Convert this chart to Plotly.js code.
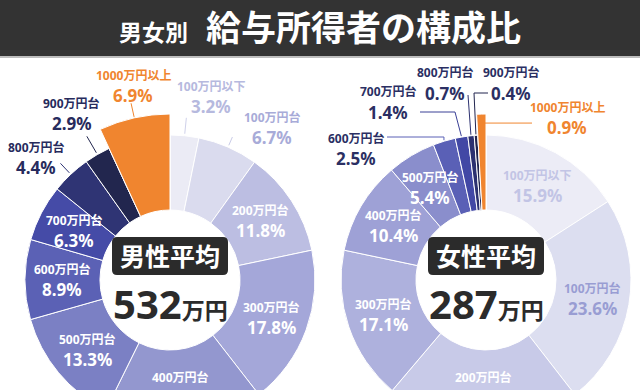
<!DOCTYPE html>
<html>
<head>
<meta charset="utf-8">
<script src="https://cdn.plot.ly/plotly-3.0.1.min.js"></script>
<style>
html, body { margin: 0; padding: 0; overflow: hidden; background: #fff; }
#chart { width: 700px; height: 460px; }
</style>
</head>
<body>
<div id="chart"></div>
<script>
// ---------- data ----------
const categories = ['100万円以下','100万円台','200万円台','300万円台','400万円台','500万円台','600万円台','700万円台','800万円台','900万円台','1000万円以上'];
const maleShare   = [3.2, 6.7, 11.8, 17.8, 17.8, 13.3, 8.9, 6.3, 4.4, 2.9, 6.9];
const femaleShare = [15.9, 23.6, 21.7, 17.1, 10.4, 5.4, 2.5, 1.4, 0.7, 0.4, 0.9];
const avgLabels = ['男性平均', '女性平均'];
const avgValues = [532, 287];
const avgUnit = '万円';
const titleSmall = '男女別';
const titleMain = '給与所得者の構成比';

// ---------- styles ----------
const FONT = '"Noto Sans", "Noto Sans CJK JP", sans-serif';
const ORANGE = '#f0852f';
const maleColors   = ['#ebebf5','#dadbee','#bcbee2','#a4a7d9','#9397cf','#7b80c4','#5b61b5','#454ba7','#2f3474','#22264e', ORANGE];
const femaleColors = ['#ececf6','#dcdef0','#c8cae8','#aeb1dd','#9ea1d6','#8a8ecc','#5a60b6','#4248a5','#2c3170','#21254f', ORANGE];

const W = 700, H = 460;
const px = x => x / W;
const py = y => 1 - y / H;

const geoms = [
  { cx: 170, cy: 280, R: 145, Rx: 166, hole: 70 },
  { cx: 486, cy: 280, R: 145, Rx: 166, hole: 70 }
];
const IN_R = 108;

// label styles per chart (positions of outside labels are layout decisions)
const maleLabelCfg = {
  0: { mode: 'radial', r0: 147, r1: 163, dx: 25, dy: -21, text: '#b6b9de', line: '#cfd1ea' },
  1: { mode: 'radial', r0: 147, r1: 156, dx: 40, dy: -10, text: '#a8abd8', line: '#c9cbe7' },
  8: { mode: 'radial', r0: 147, r1: 160, dx: -24, dy: -6, text: '#272b5d', line: '#2f3474' },
  9: { mode: 'radial', r0: 147, r1: 166, dx: -15, dy: -23, text: '#272b5d', line: '#22264e' },
  10:{ mode: 'radial', r0: 167, r1: 181, dx: 2, dy: -18, text: ORANGE, line: ORANGE }
};
const femaleLabelCfg = {
  0: { mode: 'in', text: '#c2c4e5' },
  1: { mode: 'in', text: '#999dd3' },
  6: { mode: 'elbow', r0: 146, pts: [[null,137],[387,137]], block: [356,148], text: '#2b2f63', line: '#5a60b6' },
  7: { mode: 'elbow', r0: 146, pts: [[455,112],[420,112]], block: [388,102], text: '#2b2f63', line: '#3a4096' },
  8: { mode: 'elbow', r0: 146, pts: [[468,95]], block: [445,83], text: '#2b2f63', line: '#2c3170' },
  9: { mode: 'elbow', r0: 146, pts: [[474,93],[488,93]], block: [511,83], text: '#2b2f63', line: '#21254f' },
  10:{ mode: 'elbow', r0: 157, pts: [[532,null]], block: [567,118], text: ORANGE, line: ORANGE }
};

function polar(g, ang, r) {
  const a = ang * Math.PI / 180;
  return [g.cx + r * Math.sin(a), g.cy - r * Math.cos(a)];
}
function midAngles(vals) {
  const total = vals.reduce((s, v) => s + v, 0);
  let c = 0;
  return vals.map(v => { const m = (c + v / 2) / total * 360; c += v; return m; });
}
function domainFor(g, R) {
  return { x: [px(g.cx - R), px(g.cx + R)], y: [py(g.cy + R), py(g.cy - R)] };
}

const traces = [];
const shapes = [];
const annotations = [];

function txt(x, y, text, size, color) {
  annotations.push({ xref: 'paper', yref: 'paper', x: px(x), y: py(y), text: '<b>' + text + '</b>',
    showarrow: false, xanchor: 'center', yanchor: 'middle',
    font: { family: FONT, size: size, color: color } });
}
function block(x, y, i, vals, color) {
  txt(x, y - 10, categories[i], 12, color);
  txt(x, y + 10, vals[i].toFixed(1) + '%', 17, color);
}
function seg(x0, y0, x1, y1, color) {
  shapes.push({ type: 'line', xref: 'paper', yref: 'paper', x0: px(x0), y0: py(y0), x1: px(x1), y1: py(y1),
    line: { color: color, width: 1 } });
}

function buildChart(vals, colors, g, cfg, avgIdx) {
  const last = vals.length - 1;
  traces.push({
    type: 'pie', values: vals, labels: categories, sort: false, direction: 'clockwise', rotation: 0,
    hole: g.hole / g.R, textinfo: 'none', hoverinfo: 'skip', showlegend: false,
    marker: { colors: colors, line: { color: '#ffffff', width: 1 } },
    domain: domainFor(g, g.R)
  });
  traces.push({
    type: 'pie', values: vals, labels: categories, sort: false, direction: 'clockwise', rotation: 0,
    hole: g.hole / g.Rx, textinfo: 'none', hoverinfo: 'skip', showlegend: false,
    marker: {
      colors: vals.map((v, i) => i === last ? colors[i] : 'rgba(0,0,0,0)'),
      line: { color: vals.map((v, i) => i === last ? '#ffffff' : 'rgba(0,0,0,0)'), width: 1 }
    },
    domain: domainFor(g, g.Rx)
  });

  const mids = midAngles(vals);
  vals.forEach((v, i) => {
    const c = cfg[i] || { mode: 'in', text: '#ffffff' };
    if (c.mode === 'in') {
      const [x, y] = polar(g, mids[i], IN_R);
      block(x, y, i, vals, c.text);
    } else if (c.mode === 'radial') {
      const [x0, y0] = polar(g, mids[i], c.r0);
      const [x1, y1] = polar(g, mids[i], c.r1);
      seg(x0, y0, x1, y1, c.line);
      block(x1 + c.dx, y1 + c.dy, i, vals, c.text);
    } else {
      let [x, y] = polar(g, mids[i], c.r0);
      c.pts.forEach(p => {
        const nx = p[0] === null ? x : p[0];
        const ny = p[1] === null ? y : p[1];
        seg(x, y, nx, ny, c.line);
        x = nx; y = ny;
      });
      block(c.block[0], c.block[1], i, vals, c.text);
    }
  });

  // center badge
  const bw = 116, bh = 38, bx = g.cx - bw / 2, by = 237, rr = 5;
  const P = (x, y) => px(x) + ',' + py(y);
  shapes.push({
    type: 'path', xref: 'paper', yref: 'paper', fillcolor: '#2b2b2b', line: { width: 0 },
    path: 'M' + P(bx + rr, by) + ' L' + P(bx + bw - rr, by) + ' Q' + P(bx + bw, by) + ' ' + P(bx + bw, by + rr) +
          ' L' + P(bx + bw, by + bh - rr) + ' Q' + P(bx + bw, by + bh) + ' ' + P(bx + bw - rr, by + bh) +
          ' L' + P(bx + rr, by + bh) + ' Q' + P(bx, by + bh) + ' ' + P(bx, by + bh - rr) +
          ' L' + P(bx, by + rr) + ' Q' + P(bx, by) + ' ' + P(bx + rr, by) + ' Z'
  });
  txt(g.cx, by + bh / 2, avgLabels[avgIdx], 25, '#ffffff');
  annotations.push({ xref: 'paper', yref: 'paper', x: px(g.cx), y: py(303),
    text: '<b>' + avgValues[avgIdx] + '<span style="font-size:23px">' + avgUnit + '</span></b>',
    showarrow: false, xanchor: 'center', yanchor: 'middle',
    font: { family: FONT, size: 40, color: '#2b2b2b' } });
}

buildChart(maleShare, maleColors, geoms[0], maleLabelCfg, 0);
buildChart(femaleShare, femaleColors, geoms[1], femaleLabelCfg, 1);

// header bar
shapes.unshift({ type: 'rect', xref: 'paper', yref: 'paper', x0: 0, x1: 1, y0: py(56), y1: 1,
  fillcolor: '#333333', line: { width: 0 }, layer: 'below' });
shapes.unshift({ type: 'rect', xref: 'paper', yref: 'paper', x0: 0, x1: 1, y0: py(58), y1: py(56),
  fillcolor: '#bdbdbd', line: { width: 0 }, layer: 'below' });

const layout = {
  width: W, height: H,
  margin: { l: 0, r: 0, t: 0, b: 0 },
  paper_bgcolor: '#ffffff', plot_bgcolor: '#ffffff',
  showlegend: false,
  title: {
    text: '<b><span style="font-size:23px">' + titleSmall + '</span> \u00a0' + titleMain + '</b>',
    font: { family: FONT, size: 35, color: '#ffffff' },
    x: 320 / W, xanchor: 'center', xref: 'paper',
    y: 1 - 29 / H, yanchor: 'middle', yref: 'container'
  },
  shapes: shapes,
  annotations: annotations
};

Plotly.newPlot('chart', traces, layout, { staticPlot: true, displayModeBar: false });
</script>
</body>
</html>
